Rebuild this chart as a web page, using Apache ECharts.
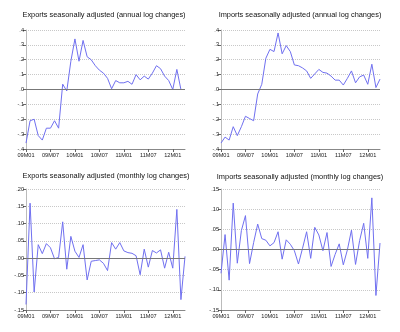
<!DOCTYPE html>
<html>
<head>
<meta charset="utf-8">
<script src="https://cdn.jsdelivr.net/npm/echarts@6/dist/echarts.min.js"></script>
<style>
  html, body { margin: 0; padding: 0; background: #fff; }
  #chart { width: 400px; height: 332px; }
</style>
</head>
<body>
<div id="chart"></div>
<script>
// Months 09M01 .. 12M04
const months = [];
for (let y = 9; y <= 12; y++) {
  for (let m = 1; m <= 12; m++) {
    if (y === 12 && m > 4) break;
    months.push((y < 10 ? '0' : '') + y + 'M' + (m < 10 ? '0' : '') + m);
  }
}

const exportsAnnual = [-0.36, -0.21, -0.20, -0.31, -0.34, -0.26, -0.26, -0.21, -0.26, 0.036,
  -0.01, 0.19, 0.34, 0.19, 0.33, 0.22, 0.20, 0.16, 0.13, 0.11,
  0.075, 0.005, 0.06, 0.045, 0.045, 0.055, 0.035, 0.10, 0.065, 0.09,
  0.07, 0.11, 0.16, 0.14, 0.09, 0.06, 0.0, 0.135, 0.0, 0.0];

const importsAnnual = [-0.36, -0.32, -0.34, -0.25, -0.31, -0.25, -0.18, -0.195, -0.21, -0.03,
  0.035, 0.21, 0.27, 0.255, 0.38, 0.24, 0.295, 0.255, 0.165, 0.16,
  0.145, 0.125, 0.075, 0.105, 0.135, 0.115, 0.11, 0.09, 0.063, 0.063,
  0.03, 0.075, 0.125, 0.045, 0.085, 0.097, 0.035, 0.17, 0.013, 0.07];

const exportsMonthly = [-0.134, 0.159, -0.098, 0.039, 0.013, 0.042, 0.03, -0.002, 0.002, 0.105,
  -0.032, 0.063, 0.02, 0.002, 0.039, -0.063, -0.009, -0.007, -0.005, -0.015,
  -0.036, 0.045, 0.026, 0.045, 0.021, 0.016, 0.014, 0.007, -0.048, 0.026,
  -0.026, 0.022, 0.015, 0.024, -0.029, 0.017, -0.029, 0.141, -0.12, 0.005];

const importsMonthly = [-0.059, 0.037, -0.076, 0.115, -0.034, 0.047, 0.084, -0.035, 0.017, 0.063,
  0.027, 0.023, 0.009, 0.017, 0.044, -0.024, 0.024, 0.013, -0.003, -0.036,
  0.003, 0.044, -0.022, 0.055, 0.036, -0.003, 0.042, -0.042, -0.012, 0.014,
  -0.038, -0.001, 0.048, -0.037, 0.022, 0.065, -0.022, 0.128, -0.114, 0.016];

const panels = [
  { title: 'Exports seasonally adjusted (annual log changes)', data: exportsAnnual,
    min: -0.4, max: 0.4, step: 0.1, digits: 1, left: 26, top: 30, height: 119, tx: 104, ty: 15 },
  { title: 'Imports seasonally adjusted (annual log changes)', data: importsAnnual,
    min: -0.4, max: 0.4, step: 0.1, digits: 1, left: 221, top: 30, height: 119, tx: 300, ty: 15 },
  { title: 'Exports seasonally adjusted (monthly log changes)', data: exportsMonthly,
    min: -0.15, max: 0.20, step: 0.05, digits: 2, left: 26, top: 189, height: 121, tx: 106, ty: 176 },
  { title: 'Imports seasonally adjusted (monthly log changes)', data: importsMonthly,
    min: -0.15, max: 0.15, step: 0.05, digits: 2, left: 221, top: 189, height: 121, tx: 300, ty: 177 }
];

const FONT = 'Liberation Sans, Arial, sans-serif';

function tickLabel(v, digits) {
  let s = Math.abs(v) < 1e-9 ? (0).toFixed(digits) : v.toFixed(digits);
  return s.replace(/^(-?)0\./, '$1.');
}

const option = {
  animation: false,
  backgroundColor: '#ffffff',
  graphic: panels.map(p => ({
    type: 'text', x: p.tx, y: p.ty, silent: true,
    style: { text: p.title, fill: '#111', font: '7.4px ' + FONT,
      textAlign: 'center', textVerticalAlign: 'middle' }
  })),
  grid: panels.map(p => ({ left: p.left, top: p.top, width: 159, height: p.height })),
  xAxis: panels.map((p, i) => ({
    type: 'category', gridIndex: i, data: months, boundaryGap: false,
    axisLine: { onZero: false, lineStyle: { color: '#888', width: 1 } },
    axisTick: { interval: 5, length: 3, lineStyle: { color: '#666' } },
    axisLabel: { interval: 5, fontFamily: FONT, fontSize: 5.6, color: '#222', margin: 3 },
    splitLine: { show: false }
  })),
  yAxis: panels.map((p, i) => ({
    type: 'value', gridIndex: i, min: p.min, max: p.max, interval: p.step,
    axisLine: { show: true, lineStyle: { color: '#bbb', width: 1 } },
    axisTick: { show: true, length: 3, lineStyle: { color: '#666' } },
    axisLabel: { fontFamily: FONT, fontSize: 5.6, color: '#222', margin: 2,
      formatter: v => tickLabel(v, p.digits) },
    splitLine: { show: true, lineStyle: { color: '#c8c8c8', type: 'dotted', width: 1 } }
  })),
  series: panels.map((p, i) => ({
    type: 'line', xAxisIndex: i, yAxisIndex: i, data: p.data,
    symbol: 'none', lineStyle: { color: '#7070f0', width: 1 },
    markLine: {
      silent: true, symbol: 'none', label: { show: false },
      lineStyle: { color: '#777', type: 'solid', width: 1 },
      data: [{ yAxis: 0 }]
    }
  }))
};

echarts.init(document.getElementById('chart'), null, { renderer: 'canvas' }).setOption(option);
</script>
</body>
</html>
